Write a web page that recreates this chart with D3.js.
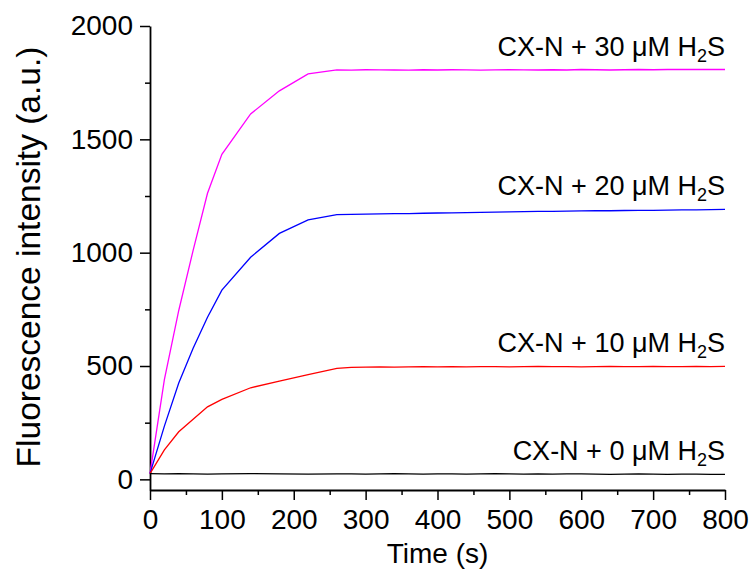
<!DOCTYPE html>
<html>
<head>
<meta charset="utf-8">
<script src="https://cdn.jsdelivr.net/npm/d3@7"></script>
<style>
  html, body { margin: 0; padding: 0; background: #fff; }
  svg { display: block; }
  text { font-family: "Liberation Sans", Arial, sans-serif; fill: #000; }
</style>
</head>
<body>
<svg id="chart" width="752" height="578"></svg>
<script>
// ---- data ----
const times = [0, 20, 40, 60, 80, 100, 140, 180, 220, 260,
  280, 300, 320, 340, 360, 380, 400, 420, 440, 460, 480, 500, 520, 540, 560,
  580, 600, 620, 640, 660, 680, 700, 720, 740, 760, 780, 800];

const conc30 = [25, 440, 745, 1010, 1262, 1434, 1612, 1714, 1789, 1806,
  1805, 1807, 1806, 1806, 1805, 1807, 1806, 1807, 1806, 1805, 1806, 1807, 1806, 1806, 1807,
  1806, 1808, 1807, 1806, 1807, 1808, 1807, 1808, 1808, 1809, 1808, 1808];

const conc20 = [25, 235, 425, 578, 715, 835, 980, 1085, 1145, 1168,
  1169, 1170, 1171, 1172, 1172, 1174, 1175, 1176, 1177, 1178, 1179, 1180, 1181, 1182, 1182,
  1183, 1184, 1185, 1185, 1186, 1187, 1187, 1188, 1189, 1189, 1190, 1191];

const conc10 = [25, 130, 210, 265, 320, 353, 404, 433, 462, 490,
  494, 495, 496, 495, 496, 497, 496, 497, 496, 497, 497, 496, 497, 498, 497,
  497, 496, 497, 498, 497, 497, 498, 497, 497, 498, 497, 498];

const conc0 = [25, 24, 25, 24, 23, 24, 25, 24, 23, 24,
  24, 23, 24, 25, 24, 23, 24, 24, 23, 24, 25, 24, 23, 24, 23,
  24, 24, 23, 22, 23, 24, 23, 22, 23, 23, 22, 22];

const seriesNames = ["30", "20", "10", "0"];
const seriesColors = ["#ff00ff", "#0000ff", "#ff0000", "#000000"];
const seriesValues = [conc30, conc20, conc10, conc0];

const xTicks = [0, 100, 200, 300, 400, 500, 600, 700, 800];
const xMinorTicks = [50, 150, 250, 350, 450, 550, 650, 750];
const yTicks = [0, 500, 1000, 1500, 2000];
const yMinorTicks = [250, 750, 1250, 1750];

// ---- chart ----
const svg = d3.select("#chart");
const x = d3.scaleLinear().domain([0, 800]).range([150, 725]);
const y = d3.scaleLinear().domain([-47, 2000]).range([490, 26]);

const tickFont = 28;

// minor ticks
svg.append("g").attr("transform", `translate(0,${y.range()[0]})`)
  .call(d3.axisBottom(x).tickValues(xMinorTicks).tickSize(5).tickSizeOuter(0).tickFormat(""))
  .call(g => g.select(".domain").remove())
  .call(g => g.selectAll("line").attr("stroke-width", 1.5));
svg.append("g").attr("transform", `translate(${x.range()[0]},0)`)
  .call(d3.axisLeft(y).tickValues(yMinorTicks).tickSize(5).tickSizeOuter(0).tickFormat(""))
  .call(g => g.select(".domain").remove())
  .call(g => g.selectAll("line").attr("stroke-width", 1.5));

// major axes
const xAxis = svg.append("g").attr("transform", `translate(0,${y.range()[0]})`)
  .call(d3.axisBottom(x).tickValues(xTicks).tickSize(10).tickSizeOuter(0).tickPadding(9).tickFormat(d3.format("d")));
xAxis.selectAll("text").attr("font-size", tickFont).attr("font-family", "Liberation Sans, Arial, sans-serif");
xAxis.selectAll("line").attr("stroke-width", 1.5);
xAxis.select(".domain").attr("stroke-width", 1.8);

const yAxis = svg.append("g").attr("transform", `translate(${x.range()[0]},0)`)
  .call(d3.axisLeft(y).tickValues(yTicks).tickSize(10).tickSizeOuter(0).tickPadding(7).tickFormat(d3.format("d")));
yAxis.selectAll("text").attr("font-size", tickFont).attr("font-family", "Liberation Sans, Arial, sans-serif");
yAxis.selectAll("line").attr("stroke-width", 1.5);
yAxis.select(".domain").attr("stroke-width", 1.8);

// axis titles
svg.append("text")
  .attr("x", (x.range()[0] + x.range()[1]) / 2)
  .attr("y", 563)
  .attr("text-anchor", "middle")
  .attr("font-size", 28)
  .text("Time (s)");

svg.append("text")
  .attr("transform", `translate(40,${(y.range()[0] + y.range()[1]) / 2 - 1}) rotate(-90)`)
  .attr("text-anchor", "middle")
  .attr("font-size", 33.5)
  .text("Fluorescence intensity (a.u.)");

// lines
const line = d3.line().x((d, i) => x(times[i])).y(d => y(d));
seriesValues.forEach((vals, k) => {
  svg.append("path")
    .datum(vals)
    .attr("fill", "none")
    .attr("stroke", seriesColors[k])
    .attr("stroke-width", 1.3)
    .attr("d", line);
});

// labels
seriesValues.forEach((vals, k) => {
  const t = svg.append("text")
    .attr("x", x(800))
    .attr("y", y(vals[vals.length - 1]) - 14)
    .attr("text-anchor", "end")
    .attr("font-size", 27);
  t.append("tspan").text(`CX-N + ${seriesNames[k]} μM H`);
  t.append("tspan").attr("font-size", 18).attr("dy", 6).text("2");
  t.append("tspan").attr("dy", -6).text("S");
});
</script>
</body>
</html>
